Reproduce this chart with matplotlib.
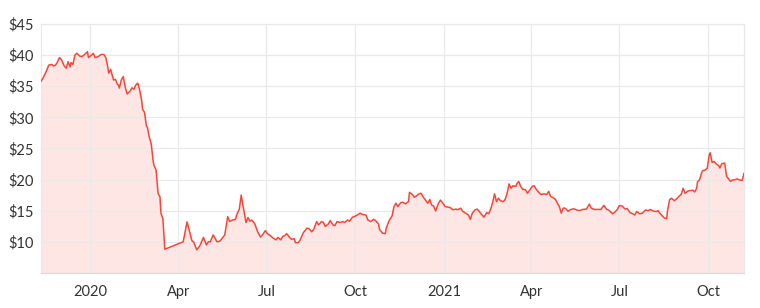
"""Share price area chart, Nov 2019 - Nov 2021."""
import matplotlib
matplotlib.use("Agg")
import matplotlib.pyplot as plt
import matplotlib.dates as mdates
import pandas as pd

dates = [
    "2019-11-11", "2019-11-13", "2019-11-17", "2019-11-19", "2019-11-22", "2019-11-24",
    "2019-11-26", "2019-11-28", "2019-11-30", "2019-12-02", "2019-12-05", "2019-12-07",
    "2019-12-09", "2019-12-11", "2019-12-12", "2019-12-14", "2019-12-16", "2019-12-18",
    "2019-12-21", "2019-12-23", "2019-12-26", "2019-12-29", "2019-12-30", "2020-01-01",
    "2020-01-03", "2020-01-04", "2020-01-06", "2020-01-09", "2020-01-12", "2020-01-15",
    "2020-01-17", "2020-01-19", "2020-01-20", "2020-01-22", "2020-01-23", "2020-01-25",
    "2020-01-27", "2020-01-29", "2020-01-30", "2020-01-31", "2020-02-02", "2020-02-04",
    "2020-02-06", "2020-02-08", "2020-02-11", "2020-02-13", "2020-02-15", "2020-02-17",
    "2020-02-19", "2020-02-21", "2020-02-23", "2020-02-24", "2020-02-26", "2020-02-28",
    "2020-02-29", "2020-03-02", "2020-03-04", "2020-03-06", "2020-03-07", "2020-03-09",
    "2020-03-11", "2020-03-13", "2020-03-14", "2020-03-16", "2020-03-18", "2020-04-06",
    "2020-04-10", "2020-04-13", "2020-04-15", "2020-04-17", "2020-04-20", "2020-04-23",
    "2020-04-25", "2020-04-27", "2020-04-30", "2020-05-02", "2020-05-04", "2020-05-07",
    "2020-05-11", "2020-05-14", "2020-05-19", "2020-05-22", "2020-05-24", "2020-05-27",
    "2020-05-30", "2020-06-01", "2020-06-03", "2020-06-05", "2020-06-07", "2020-06-10",
    "2020-06-12", "2020-06-14", "2020-06-16", "2020-06-19", "2020-06-22", "2020-06-25",
    "2020-06-27", "2020-06-30", "2020-07-02", "2020-07-05", "2020-07-08", "2020-07-11",
    "2020-07-13", "2020-07-16", "2020-07-18", "2020-07-20", "2020-07-22", "2020-07-25",
    "2020-07-27", "2020-07-30", "2020-07-31", "2020-08-03", "2020-08-05", "2020-08-08",
    "2020-08-12", "2020-08-14", "2020-08-17", "2020-08-19", "2020-08-22", "2020-08-24",
    "2020-08-27", "2020-08-29", "2020-08-31", "2020-09-03", "2020-09-05", "2020-09-08",
    "2020-09-10", "2020-09-12", "2020-09-15", "2020-09-18", "2020-09-20", "2020-09-23",
    "2020-09-25", "2020-09-28", "2020-09-30", "2020-10-03", "2020-10-06", "2020-10-08",
    "2020-10-12", "2020-10-14", "2020-10-17", "2020-10-20", "2020-10-22", "2020-10-25",
    "2020-10-26", "2020-10-29", "2020-11-01", "2020-11-02", "2020-11-05", "2020-11-08",
    "2020-11-10", "2020-11-12", "2020-11-14", "2020-11-17", "2020-11-19", "2020-11-22",
    "2020-11-25", "2020-11-26", "2020-11-29", "2020-12-01", "2020-12-03", "2020-12-06",
    "2020-12-08", "2020-12-10", "2020-12-13", "2020-12-15", "2020-12-17", "2020-12-19",
    "2020-12-21", "2020-12-23", "2020-12-26", "2020-12-28", "2020-12-31", "2021-01-02",
    "2021-01-05", "2021-01-07", "2021-01-10", "2021-01-13", "2021-01-15", "2021-01-18",
    "2021-01-20", "2021-01-23", "2021-01-26", "2021-01-28", "2021-01-30", "2021-02-02",
    "2021-02-04", "2021-02-06", "2021-02-08", "2021-02-11", "2021-02-14", "2021-02-16",
    "2021-02-18", "2021-02-20", "2021-02-22", "2021-02-24", "2021-02-26", "2021-02-28",
    "2021-03-03", "2021-03-05", "2021-03-07", "2021-03-09", "2021-03-11", "2021-03-13",
    "2021-03-16", "2021-03-17", "2021-03-19", "2021-03-21", "2021-03-23", "2021-03-26",
    "2021-03-28", "2021-03-30", "2021-04-02", "2021-04-04", "2021-04-06", "2021-04-09",
    "2021-04-11", "2021-04-14", "2021-04-17", "2021-04-19", "2021-04-21", "2021-04-23",
    "2021-04-26", "2021-04-29", "2021-04-30", "2021-05-02", "2021-05-04", "2021-05-06",
    "2021-05-09", "2021-05-12", "2021-05-15", "2021-05-18", "2021-05-21", "2021-05-24",
    "2021-05-28", "2021-05-31", "2021-06-02", "2021-06-05", "2021-06-09", "2021-06-12",
    "2021-06-15", "2021-06-18", "2021-06-20", "2021-06-24", "2021-06-26", "2021-06-29",
    "2021-07-01", "2021-07-04", "2021-07-07", "2021-07-09", "2021-07-12", "2021-07-15",
    "2021-07-17", "2021-07-19", "2021-07-22", "2021-07-25", "2021-07-28", "2021-07-31",
    "2021-08-02", "2021-08-05", "2021-08-08", "2021-08-10", "2021-08-12", "2021-08-15",
    "2021-08-17", "2021-08-19", "2021-08-20", "2021-08-22", "2021-08-24", "2021-08-27",
    "2021-08-30", "2021-09-01", "2021-09-03", "2021-09-05", "2021-09-07", "2021-09-10",
    "2021-09-12", "2021-09-15", "2021-09-17", "2021-09-19", "2021-09-20", "2021-09-22",
    "2021-09-24", "2021-09-25", "2021-09-28", "2021-09-30", "2021-10-02", "2021-10-03",
    "2021-10-05", "2021-10-07", "2021-10-09", "2021-10-12", "2021-10-13", "2021-10-15",
    "2021-10-18", "2021-10-20", "2021-10-22", "2021-10-24", "2021-10-26", "2021-10-28",
    "2021-10-31", "2021-11-02", "2021-11-05", "2021-11-07",
]

prices = [
    35.8, 36.3, 37.6, 38.4, 38.5, 38.25,
    38.4, 38.9, 39.6, 39.3, 38.25, 37.9,
    38.95, 38.1, 38.8, 38.5, 40.0, 40.3,
    39.85, 39.75, 40.1, 40.55, 39.6, 39.85,
    40.1, 40.3, 39.6, 39.75, 40.1, 40.1,
    39.6, 38.1, 37.1, 37.7, 37.1, 36.0,
    36.1, 35.3, 35.2, 34.7, 36.0, 36.55,
    34.9, 33.75, 34.2, 34.75, 34.5, 35.2,
    35.5, 34.4, 32.8, 31.3, 30.8, 28.6,
    28.4, 26.8, 25.7, 22.9, 22.2, 21.55,
    17.8, 17.2, 14.6, 13.7, 8.8, 10.0,
    13.2, 11.4, 10.2, 9.9, 8.7, 9.3,
    10.0, 10.7, 9.5, 10.0, 10.0, 11.1,
    10.0, 10.1, 11.1, 14.05, 13.25, 13.5,
    13.6, 14.6, 15.2, 17.5, 15.65, 13.1,
    13.9, 13.3, 13.5, 12.9, 11.6, 10.75,
    11.1, 11.8, 11.3, 11.0, 10.6, 10.3,
    10.7, 10.3, 10.85, 11.0, 11.3, 10.7,
    10.4, 10.5, 9.85, 9.85, 10.3, 11.4,
    12.2, 12.1, 11.6, 12.0, 13.25, 12.7,
    13.25, 13.1, 12.45, 12.85, 13.4, 12.7,
    12.6, 13.25, 13.1, 13.25, 13.1, 13.5,
    13.3, 13.95, 14.05, 14.3, 14.6, 14.4,
    14.3, 13.5, 13.25, 13.6, 13.4, 12.85,
    12.0, 11.4, 11.3, 12.2, 13.4, 14.15,
    15.65, 16.2, 15.65, 16.3, 16.35, 16.1,
    16.45, 17.95, 17.6, 17.15, 17.35, 17.7,
    17.8, 17.25, 16.6, 16.2, 16.8, 15.9,
    15.75, 14.95, 16.2, 16.7, 16.1, 15.65,
    15.55, 15.5, 15.15, 15.25, 15.15, 15.4,
    14.9, 14.6, 14.3, 13.6, 14.6, 15.15,
    15.25, 14.9, 14.5, 13.95, 14.7, 14.5,
    15.25, 16.3, 17.7, 16.45, 17.0, 16.6,
    16.45, 16.8, 17.8, 19.3, 18.6, 19.0,
    18.9, 19.3, 19.7, 18.9, 18.45, 18.35,
    17.8, 18.25, 18.9, 19.0, 18.45, 17.9,
    17.6, 17.7, 17.6, 18.1, 17.25, 17.15,
    16.8, 15.9, 15.65, 14.6, 15.4, 15.4,
    14.9, 15.2, 15.3, 15.1, 15.0, 15.2,
    15.25, 16.05, 15.4, 15.2, 15.2, 15.2,
    15.85, 15.2, 15.1, 14.5, 14.7, 15.2,
    15.8, 15.75, 15.25, 15.35, 14.7, 14.5,
    14.3, 14.85, 14.5, 14.6, 15.1, 15.0,
    15.2, 14.95, 14.85, 15.0, 14.6, 14.05,
    13.8, 13.7, 15.15, 16.75, 17.0, 16.6,
    17.0, 17.35, 17.6, 18.6, 17.8, 18.15,
    18.2, 18.3, 18.0, 18.6, 19.7, 19.95,
    21.0, 21.4, 21.55, 21.85, 23.95, 24.3,
    22.75, 22.9, 22.55, 22.2, 21.85, 22.55,
    22.65, 20.5, 20.1, 19.7, 19.95, 19.95,
    20.1, 19.95, 19.85, 21.0,
]

y_ticks = [10, 15, 20, 25, 30, 35, 40, 45]
x_ticks = ["2020-01-01", "2020-04-01", "2020-07-01", "2020-10-01",
           "2021-01-01", "2021-04-01", "2021-07-01", "2021-10-01"]

LINE = "#f4473a"
FILL = "#fde6e4"
GRID = "#e9e9e9"
TEXT = "#333333"


def tick_label(x, pos=None):
    d = mdates.num2date(x)
    return str(d.year) if d.month == 1 else d.strftime("%b")


def main() -> None:
    plt.rcParams["font.family"] = ["Lato", "DejaVu Sans"]
    x = pd.to_datetime(dates)

    fig = plt.figure(figsize=(7.6, 3.08), dpi=100)
    ax = fig.add_axes([0.054, 0.114, 0.925, 0.808])
    ax.fill_between(x, prices, 5, color=FILL, linewidth=0, zorder=1)
    ax.plot(x, prices, color=LINE, linewidth=1.1, zorder=3)

    ax.set_xlim(x[0], x[-1])
    ax.set_ylim(5, 45)
    ax.set_yticks(y_ticks)
    ax.set_yticklabels([f"${v}" for v in y_ticks])
    ax.set_xticks(pd.to_datetime(x_ticks))
    ax.xaxis.set_major_formatter(plt.FuncFormatter(tick_label))

    ax.grid(True, color=GRID, linewidth=0.9, zorder=2)
    ax.set_axisbelow(False)
    for s in ax.spines.values():
        s.set_color(GRID)
        s.set_linewidth(0.9)
    ax.spines["bottom"].set_color("#dcdcdc")
    ax.tick_params(length=0, labelsize=10.5, colors=TEXT)
    ax.tick_params(axis="x", pad=9)
    ax.tick_params(axis="y", pad=5)

    fig.savefig("out.png", dpi=100)


if __name__ == "__main__":
    main()
